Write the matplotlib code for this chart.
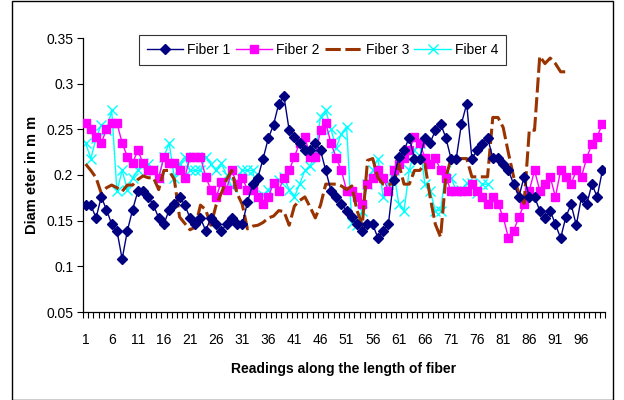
import matplotlib
matplotlib.use("Agg")
import matplotlib.pyplot as plt
from matplotlib.patches import Rectangle
import numpy as np

plt.rcParams['font.family'] = ['Liberation Sans', 'DejaVu Sans']

fiber1 = [0.167, 0.167, 0.153, 0.176, 0.162, 0.146, 0.139, 0.108, 0.139, 0.162,
          0.182, 0.182, 0.176, 0.167, 0.153, 0.146, 0.162, 0.168, 0.176, 0.167,
          0.153, 0.146, 0.153, 0.139, 0.153, 0.146, 0.139, 0.146, 0.153, 0.146,
          0.146, 0.170, 0.190, 0.197, 0.218, 0.240, 0.255, 0.278, 0.286, 0.249,
          0.242, 0.235, 0.227, 0.227, 0.235, 0.227, 0.205, 0.183, 0.176, 0.168,
          0.161, 0.154, 0.146, 0.139, 0.146, 0.146, 0.131, 0.139, 0.146, 0.195,
          0.220, 0.227, 0.241, 0.218, 0.218, 0.240, 0.235, 0.249, 0.256, 0.241,
          0.218, 0.218, 0.256, 0.278, 0.218, 0.227, 0.234, 0.241, 0.219, 0.219,
          0.212, 0.205, 0.190, 0.176, 0.198, 0.176, 0.176, 0.161, 0.153, 0.161,
          0.146, 0.131, 0.154, 0.168, 0.145, 0.176, 0.168, 0.190, 0.176, 0.205]

fiber2 = [0.257, 0.250, 0.242, 0.235, 0.250, 0.257, 0.257, 0.235, 0.220, 0.213,
          0.227, 0.213, 0.205, 0.205, 0.197, 0.220, 0.213, 0.213, 0.205, 0.197,
          0.220, 0.220, 0.220, 0.198, 0.184, 0.176, 0.192, 0.184, 0.205, 0.190,
          0.197, 0.184, 0.184, 0.176, 0.168, 0.176, 0.191, 0.183, 0.197, 0.205,
          0.220, 0.235, 0.242, 0.220, 0.220, 0.249, 0.257, 0.235, 0.219, 0.205,
          0.183, 0.183, 0.176, 0.168, 0.190, 0.197, 0.205, 0.197, 0.183, 0.205,
          0.212, 0.219, 0.227, 0.242, 0.235, 0.219, 0.212, 0.219, 0.205, 0.197,
          0.183, 0.183, 0.183, 0.183, 0.190, 0.183, 0.176, 0.168, 0.176, 0.168,
          0.154, 0.131, 0.139, 0.154, 0.168, 0.183, 0.205, 0.183, 0.190, 0.198,
          0.176, 0.205, 0.198, 0.190, 0.205, 0.198, 0.219, 0.234, 0.242, 0.256]

fiber3 = [0.212, 0.205, 0.197, 0.180, 0.186, 0.189, 0.186, 0.182, 0.189, 0.189,
          0.195, 0.199, 0.197, 0.197, 0.184, 0.205, 0.205, 0.195, 0.154, 0.147,
          0.140, 0.143, 0.167, 0.162, 0.145, 0.167, 0.180, 0.195, 0.205, 0.180,
          0.168, 0.141, 0.144, 0.145, 0.148, 0.153, 0.155, 0.161, 0.160, 0.145,
          0.166, 0.172, 0.176, 0.165, 0.153, 0.167, 0.190, 0.190, 0.190, 0.188,
          0.184, 0.188, 0.161, 0.145, 0.216, 0.218, 0.197, 0.190, 0.190, 0.190,
          0.212, 0.190, 0.190, 0.205, 0.205, 0.212, 0.176, 0.146, 0.132, 0.197,
          0.218, 0.218, 0.218, 0.218, 0.198, 0.198, 0.198, 0.198, 0.263, 0.263,
          0.252, 0.224, 0.198, 0.180, 0.169, 0.249, 0.249, 0.330, 0.322, 0.328,
          0.322, 0.313, 0.313]

fiber4 = [0.235, 0.218, 0.240, 0.255, 0.249, 0.271, 0.182, 0.205, 0.184, 0.197,
          0.205, 0.213, 0.212, 0.205, 0.197, 0.220, 0.235, 0.197, 0.212, 0.220,
          0.205, 0.205, 0.205, 0.220, 0.212, 0.205, 0.213, 0.200, 0.187, 0.192,
          0.205, 0.205, 0.205, 0.176, 0.178, 0.184, 0.190, 0.195, 0.198, 0.184,
          0.176, 0.190, 0.205, 0.210, 0.222, 0.264, 0.271, 0.250, 0.230, 0.245,
          0.253, 0.147, 0.145, 0.161, 0.190, 0.205, 0.218, 0.176, 0.190, 0.205,
          0.168, 0.161, 0.205, 0.227, 0.235, 0.190, 0.183, 0.161, 0.161, 0.205,
          0.197, 0.183, 0.184, 0.191, 0.191, 0.180, 0.190, 0.190]

series_names = ["Fiber 1", "Fiber 2", "Fiber 3", "Fiber 4"]
x_tick_labels = [str(v) for v in range(1, 101, 5)]
y_ticks = [0.05, 0.1, 0.15, 0.2, 0.25, 0.3, 0.35]
y_tick_labels = ['0.05', '0.1', '0.15', '0.2', '0.25', '0.3', '0.35']

fig = plt.figure(figsize=(6.24, 4.0), dpi=100)
ax = fig.add_axes([83/624, 1-312/400, (605-83)/624, (312-38)/400])

x1 = np.arange(1, len(fiber1)+1)
x2 = np.arange(1, len(fiber2)+1)
x3 = np.arange(1, len(fiber3)+1)
x4 = np.arange(1, len(fiber4)+1)

ax.plot(x1, fiber1, color='#000080', lw=1.0, marker='D', ms=5.5, mec='#000080', mfc='#000080', label=series_names[0], zorder=5)
ax.plot(x2, fiber2, color='#FF00FF', lw=1.0, marker='s', ms=5.5, mec='#FF00FF', mfc='#FF00FF', label=series_names[1], zorder=3)
ax.plot(x3, fiber3, color='#993300', lw=2.2, linestyle=(0, (5, 1.5)), label=series_names[2], zorder=4)
ax.plot(x4, fiber4, color='#00FFFF', lw=1.0, marker='x', ms=6.5, mew=1.0, label=series_names[3], zorder=2)

ax.set_xlim(0.5, 100.5)
ax.set_ylim(0.05, 0.35)
ax.set_yticks(y_ticks)
ax.set_yticklabels(y_tick_labels, fontsize=10)
ax.set_xticks(np.arange(1, 101, 5))
ax.set_xticklabels(x_tick_labels, fontsize=10)
ax.tick_params(axis='x', which='major', length=0, pad=15)
ax.set_xticks(np.arange(0.5, 101, 1), minor=True)
ax.tick_params(axis='x', which='minor', length=4, direction='out', width=0.8)
ax.tick_params(axis='y', which='major', length=4, direction='out', width=0.8, pad=3)

for s in ['top', 'right']:
    ax.spines[s].set_visible(False)
for s in ['left', 'bottom']:
    ax.spines[s].set_linewidth(0.9)

ax.set_ylabel('Diam eter in m m', fontsize=10.5, fontweight='bold', labelpad=5)
ax.set_xlabel('Readings along the length of fiber', fontsize=10, fontweight='bold', labelpad=11)

leg = fig.legend(loc='center', bbox_to_anchor=((142+503)/2/624, 1-50/400), ncol=4,
                 fontsize=10, frameon=True, fancybox=False, edgecolor='black',
                 handlelength=2.6, columnspacing=0.4, handletextpad=0.3, borderpad=0.55)
leg.get_frame().set_linewidth(0.8)

fig.patches.append(Rectangle((12/624, 0.5/400), (613-12)/624, 398.5/400, transform=fig.transFigure,
                             fill=False, edgecolor='black', lw=1.0))

fig.savefig('out.png', dpi=100)
